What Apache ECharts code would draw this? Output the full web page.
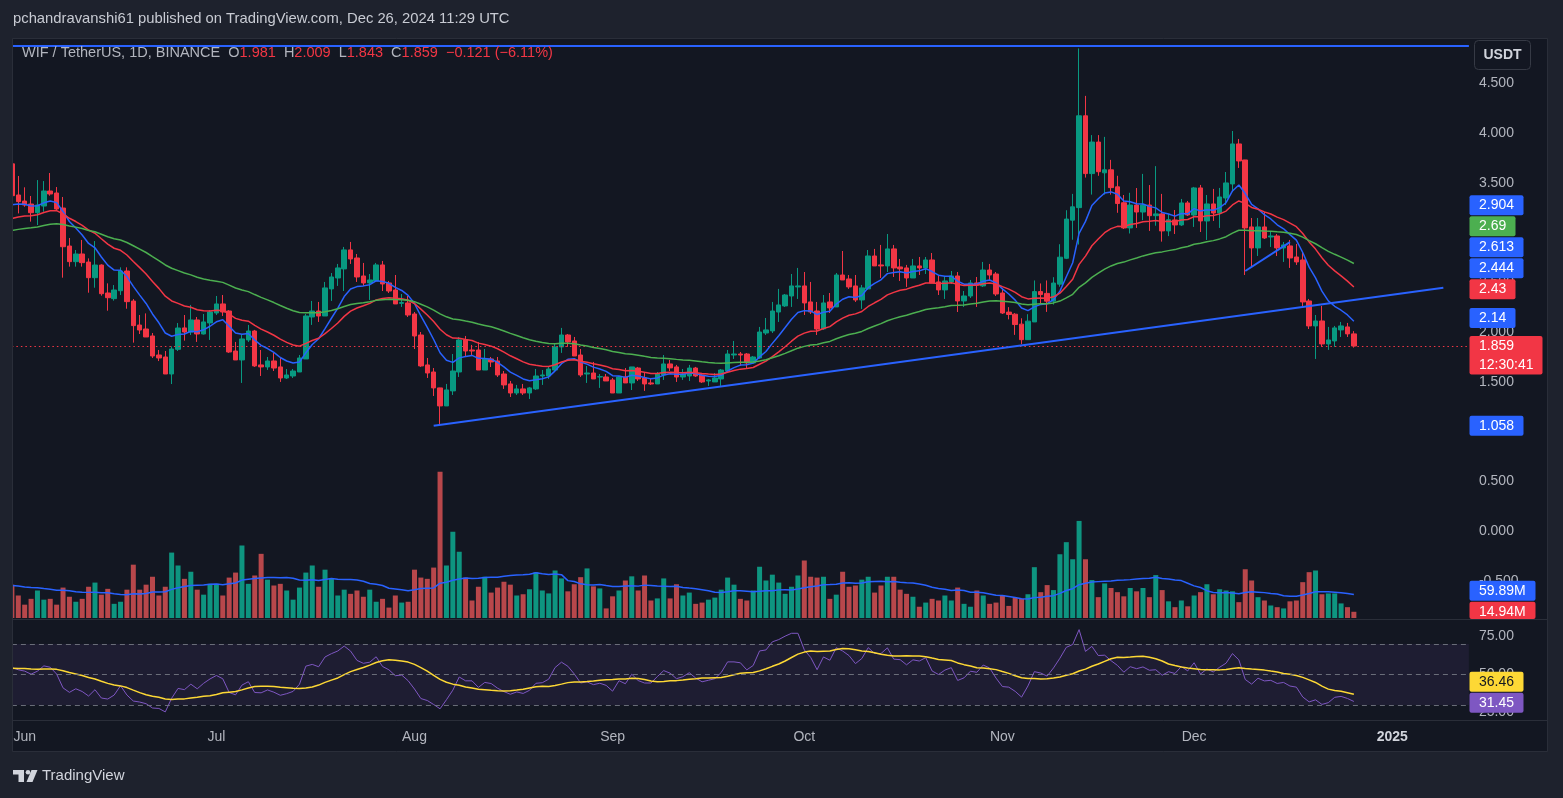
<!DOCTYPE html>
<html>
<head>
<meta charset="utf-8">
<script src="https://cdn.jsdelivr.net/npm/echarts@6/dist/echarts.min.js"></script>
<style>
html,body{margin:0;padding:0;background:#1e222d;}
#chart{width:1563px;height:798px;}
</style>
</head>
<body>
<div id="chart"></div>
<script>
// ---------------- DATA ----------------
const START_DATE = [2024, 4, 30];   // 2024-05-30 (first category)
const CATEGORY_COUNT = 229;         // through 2025-01-13 (empty right margin)
const MONTHS = ['Jan','Feb','Mar','Apr','May','Jun','Jul','Aug','Sep','Oct','Nov','Dec'];

const open = [
3.69,3.377,3.316,3.286,3.199,3.266,3.417,3.397,3.246,2.864,
2.707,2.784,2.703,2.546,2.673,2.392,2.335,2.415,2.613,2.311,
2.07,2.03,1.96,1.769,1.749,1.578,1.826,2.041,2.0,2.121,
1.98,2.091,2.191,2.282,2.211,1.809,1.719,1.92,2.01,1.669,
1.649,1.709,1.649,1.538,1.558,1.598,1.729,2.151,2.211,2.161,
2.433,2.543,2.634,2.825,2.744,2.563,2.493,2.513,2.674,2.493,
2.422,2.288,2.292,2.181,1.97,1.669,1.598,1.438,1.257,1.408,
1.598,1.92,1.819,1.819,1.618,1.729,1.709,1.578,1.478,1.387,
1.428,1.387,1.428,1.558,1.558,1.618,1.85,1.97,1.91,1.769,
1.578,1.588,1.548,1.548,1.518,1.387,1.548,1.488,1.638,1.538,
1.488,1.478,1.568,1.679,1.649,1.548,1.558,1.638,1.568,1.508,
1.498,1.528,1.608,1.769,1.779,1.779,1.689,1.739,1.99,2.011,
2.201,2.262,2.362,2.453,2.463,2.302,2.211,2.031,2.302,2.252,
2.573,2.533,2.463,2.322,2.433,2.764,2.674,2.664,2.835,2.654,
2.644,2.543,2.664,2.644,2.724,2.503,2.423,2.503,2.563,2.312,
2.362,2.493,2.463,2.623,2.583,2.392,2.2,2.179,2.079,1.923,
2.101,2.406,2.388,2.31,2.481,2.741,3.124,3.25,4.173,3.592,
3.909,3.6,3.63,3.459,3.299,3.046,3.276,3.206,3.276,3.169,
3.187,3.016,3.126,3.076,3.297,3.176,3.448,3.116,3.287,3.196,
3.347,3.488,3.89,3.729,3.056,2.845,3.056,2.955,2.965,2.845,
2.865,2.754,2.724,2.312,2.061,2.111,1.88,1.91,2.021,2.051,1.981];

const high = [
3.72,3.568,3.454,3.367,3.527,3.517,3.598,3.457,3.357,2.945,
2.824,2.925,2.74,2.914,2.68,2.489,2.472,2.65,2.65,2.331,
2.171,2.187,1.99,1.819,1.809,1.856,2.09,2.171,2.272,2.151,
2.181,2.221,2.362,2.372,2.22,1.90,1.97,2.071,2.021,1.819,
1.749,1.789,1.739,1.628,1.628,1.769,2.181,2.312,2.302,2.503,
2.593,2.684,2.855,2.905,2.784,2.694,2.583,2.694,2.714,2.513,
2.573,2.382,2.362,2.201,2.0,1.739,1.638,1.44,1.478,1.779,
1.95,1.96,1.87,1.90,1.829,1.749,1.749,1.608,1.508,1.468,
1.478,1.448,1.628,1.618,1.658,1.88,2.041,1.98,1.95,1.829,
1.658,1.699,1.578,1.578,1.538,1.558,1.638,1.649,1.649,1.598,
1.538,1.598,1.769,1.719,1.669,1.628,1.669,1.649,1.588,1.528,
1.588,1.628,1.819,1.91,1.799,1.789,1.759,2.051,2.141,2.302,
2.433,2.382,2.583,2.644,2.603,2.503,2.302,2.372,2.392,2.593,
2.814,2.573,2.573,2.473,2.824,2.835,2.875,2.985,2.875,2.734,
2.674,2.734,2.754,2.754,2.794,2.563,2.563,2.613,2.603,2.412,
2.523,2.553,2.704,2.684,2.603,2.443,2.25,2.19,2.138,2.179,
2.518,2.488,2.518,2.551,2.882,3.224,3.388,4.85,4.373,3.979,
3.979,3.961,3.73,3.57,3.377,3.399,3.447,3.589,3.477,3.667,
3.388,3.187,3.226,3.337,3.317,3.458,3.478,3.377,3.438,3.448,
3.608,4.02,3.94,3.73,3.146,3.146,3.206,3.005,2.985,2.905,
2.925,2.885,2.794,2.332,2.171,2.262,2.051,2.061,2.101,2.091,2.009];

const low = [
3.33,3.192,3.259,3.109,3.075,3.209,3.37,3.226,2.546,2.657,
2.657,2.657,2.395,2.445,2.365,2.214,2.315,2.372,2.234,1.893,
1.98,1.95,1.739,1.708,1.578,1.477,1.809,1.913,1.97,1.90,
1.975,1.92,2.171,2.161,1.79,1.719,1.488,1.90,1.649,1.558,
1.619,1.608,1.498,1.528,1.538,1.598,1.729,2.071,2.101,2.161,
2.312,2.463,2.412,2.684,2.503,2.463,2.322,2.513,2.412,2.392,
2.282,2.252,2.151,1.829,1.649,1.538,1.357,1.07,1.257,1.367,
1.548,1.749,1.769,1.618,1.618,1.648,1.548,1.428,1.347,1.367,
1.367,1.327,1.418,1.468,1.528,1.608,1.79,1.85,1.759,1.548,
1.488,1.528,1.438,1.508,1.387,1.387,1.488,1.417,1.508,1.408,
1.468,1.478,1.518,1.608,1.498,1.518,1.508,1.548,1.488,1.458,
1.498,1.458,1.608,1.729,1.659,1.638,1.679,1.729,1.97,1.99,
2.101,2.252,2.252,2.332,2.171,2.181,1.97,2.021,2.191,2.252,
2.523,2.433,2.302,2.232,2.423,2.664,2.543,2.603,2.553,2.513,
2.453,2.543,2.573,2.583,2.493,2.372,2.332,2.483,2.201,2.252,
2.342,2.252,2.453,2.523,2.362,2.181,2.127,1.971,1.878,1.923,
2.101,2.276,2.202,2.276,2.455,2.733,2.927,2.879,3.552,3.381,
3.57,3.381,3.381,3.198,3.035,2.99,3.046,3.124,3.016,3.068,
2.908,2.964,2.985,3.066,3.166,3.056,3.005,2.925,3.116,3.046,
3.277,3.407,3.649,2.573,2.654,2.764,2.935,2.855,2.764,2.704,
2.644,2.674,2.242,2.03,1.729,1.85,1.82,1.85,1.95,1.95,1.843];

const close = [
3.37,3.31,3.276,3.199,3.276,3.417,3.387,3.236,2.857,2.707,
2.784,2.697,2.546,2.673,2.385,2.345,2.422,2.613,2.305,2.064,
2.02,1.95,1.759,1.739,1.578,1.829,2.04,2.0,2.121,1.98,
2.101,2.201,2.282,2.201,1.799,1.719,1.93,2.01,1.659,1.649,
1.709,1.638,1.538,1.568,1.608,1.739,2.161,2.211,2.161,2.443,
2.553,2.644,2.825,2.734,2.553,2.493,2.523,2.674,2.483,2.412,
2.282,2.296,2.171,1.96,1.659,1.588,1.438,1.257,1.418,1.608,
1.92,1.809,1.809,1.618,1.729,1.699,1.568,1.468,1.387,1.428,
1.387,1.438,1.558,1.568,1.628,1.85,1.97,1.90,1.759,1.568,
1.588,1.528,1.551,1.508,1.387,1.548,1.488,1.649,1.528,1.478,
1.478,1.578,1.679,1.639,1.548,1.578,1.638,1.558,1.498,1.518,
1.538,1.618,1.779,1.779,1.769,1.689,1.749,2.0,2.021,2.211,
2.272,2.372,2.463,2.463,2.292,2.201,2.03,2.292,2.242,2.573,
2.523,2.453,2.322,2.443,2.764,2.664,2.664,2.835,2.644,2.634,
2.543,2.664,2.644,2.724,2.493,2.423,2.513,2.563,2.312,2.362,
2.493,2.473,2.623,2.573,2.382,2.191,2.176,2.075,1.923,2.109,
2.406,2.376,2.31,2.492,2.752,3.135,3.258,4.173,3.592,3.909,
3.611,3.63,3.451,3.291,3.046,3.276,3.206,3.276,3.169,3.187,
3.016,3.128,3.076,3.297,3.176,3.448,3.116,3.287,3.196,3.357,
3.498,3.89,3.719,3.046,2.845,3.056,2.945,2.965,2.845,2.875,
2.744,2.704,2.302,2.061,2.111,1.88,1.92,2.041,2.061,1.981,1.859];

// volume in millions
const volume = [
80,54,32,46,66,44,46,32,73,51,
39,46,75,85,56,70,34,39,68,128,
68,80,99,54,75,157,126,94,111,68,
56,82,82,54,97,109,174,82,102,154,
92,78,82,66,44,73,109,126,75,116,
94,54,68,58,66,51,68,39,46,25,
54,37,39,116,97,94,121,351,126,207,
159,97,42,75,99,61,73,87,80,54,
57,69,110,66,59,114,95,64,81,98,
119,76,71,23,52,66,90,100,66,102,
42,47,95,47,81,54,61,34,37,44,
49,68,97,80,46,42,66,123,90,104,
85,58,75,102,138,99,97,99,46,56,
111,75,78,92,99,61,78,99,99,68,
58,51,27,37,46,42,54,42,73,34,
27,66,54,34,37,54,29,48,46,57,
122,62,79,67,153,182,141,233,141,91,
50,83,72,62,52,72,64,72,50,103,
67,40,26,42,28,54,62,81,57,69,
66,64,38,117,90,50,42,30,26,23,
40,42,86,110,114,57,59,59,35,26,14.94];

// indicator settings and starting values read at the left edge of the picture
const EMA_PERIODS = [9, 21, 50];
const EMA_START = [3.28, 3.14, 3.02];
const EMA_COLORS = ['#2962ff', '#f23645', '#4caf50'];
const VOL_MA_PERIOD = 20, VOL_MA_START = 78;
const RSI_PERIOD = 14, RSI_START_GAIN = 0.09, RSI_START_LOSS = 0.075;
const RSI_MA_PERIOD = 14, RSI_MA_START = 54;

// drawings (date index, price)
const trendLine = [[66, 1.058], [224, 2.444]];
const shortLine = [[193, 2.613], [200, 2.904]];
const topLevel = 4.874;
const lastPrice = 1.859;

// right-side value tags
const priceTags = [
  {v: 2.904, text: '2.904', color: '#2962ff'},
  {v: 2.69,  text: '2.69',  color: '#4caf50'},
  {v: 2.613, text: '2.613', color: '#2962ff'},
  {v: 2.444, text: '2.444', color: '#2962ff'},
  {v: 2.43,  text: '2.43',  color: '#f23645'},
  {v: 2.14,  text: '2.14',  color: '#2962ff'},
  {v: 1.859, text: '1.859', sub: '12:30:41', color: '#f23645'},
  {v: 1.058, text: '1.058', color: '#2962ff'}
];
const volumeTags = [
  {v: 59.89, text: '59.89M', color: '#2962ff'},
  {v: 14.94, text: '14.94M', color: '#f23645', clipBottom: true}
];
const rsiTags = [
  {v: 36.46, text: '36.46', color: '#fdd835', tc: '#131722'},
  {v: 31.45, text: '31.45', color: '#7e57c2'}
];

// ---------------- BUILD ----------------
const dates = [];
for (let i = 0; i < CATEGORY_COUNT; i++) {
  const d = new Date(Date.UTC(START_DATE[0], START_DATE[1], START_DATE[2]) + i * 86400000);
  dates.push(d.toISOString().slice(0, 10));
}
const N = close.length;
const candles = close.map((c, i) => [open[i], c, low[i], high[i]]);

function ema(period, start) {
  const k = 2 / (period + 1), out = [start];
  for (let i = 1; i < N; i++) out.push(out[i - 1] + k * (close[i] - out[i - 1]));
  return out.map(v => +v.toFixed(4));
}
function sma(arr, period, seed) {
  const buf = new Array(period - 1).fill(seed), out = [];
  arr.forEach(v => { buf.push(v); if (buf.length > period) buf.shift();
    out.push(+(buf.reduce((a, b) => a + b, 0) / buf.length).toFixed(3)); });
  return out;
}
const emaLines = EMA_PERIODS.map((p, i) => ema(p, EMA_START[i]));
const volMA = sma(volume, VOL_MA_PERIOD, VOL_MA_START);
const rsi = [];
(function () {
  let ag = RSI_START_GAIN, al = RSI_START_LOSS;
  rsi.push(100 - 100 / (1 + ag / al));
  for (let i = 1; i < N; i++) {
    const ch = close[i] - close[i - 1];
    ag = (ag * (RSI_PERIOD - 1) + Math.max(ch, 0)) / RSI_PERIOD;
    al = (al * (RSI_PERIOD - 1) + Math.max(-ch, 0)) / RSI_PERIOD;
    rsi.push(100 - 100 / (1 + ag / al));
  }
})();
const rsiR = rsi.map(v => +v.toFixed(2));
const rsiMA = sma(rsiR, RSI_MA_PERIOD, RSI_MA_START);

const UP = '#089981', DOWN = '#f23645';
const volData = volume.map((v, i) => ({value: v,
  itemStyle: {color: close[i] >= open[i] ? '#0e9580' : '#b8474b'}}));

const FONT_FAMILY = '"Liberation Sans", Arial, sans-serif';
const LEFT = 11.9, RIGHT = 94.1;

const xAxisBase = {type: 'category', data: dates, boundaryGap: false,
  axisLine: {show: false}, axisTick: {show: false}, splitLine: {show: false}};

const option = {
  backgroundColor: '#1e222d',
  animation: false,
  grid: [
    {left: LEFT, right: RIGHT, top: 33.5, height: 597},
    {left: LEFT, right: RIGHT, top: 443, height: 175},
    {left: LEFT, right: RIGHT, top: 621.1, height: 99.1}
  ],
  xAxis: [
    Object.assign({}, xAxisBase, {gridIndex: 0, axisLabel: {show: false}}),
    Object.assign({}, xAxisBase, {gridIndex: 1, axisLabel: {show: false}}),
    Object.assign({}, xAxisBase, {gridIndex: 2, axisLabel: {
      show: true, color: '#b2b5be', fontSize: 14, fontFamily: FONT_FAMILY, margin: 10,
      interval: (idx, val) => val.slice(8) === '01',
      formatter: val => { const m = +val.slice(5, 7); return m === 1 ? '{y|' + val.slice(0, 4) + '}' : MONTHS[m - 1]; },
      rich: {y: {fontWeight: 'bold', color: '#d1d4dc', fontSize: 14, fontFamily: FONT_FAMILY}}
    }})
  ],
  yAxis: [
    {gridIndex: 0, type: 'value', position: 'right', min: -1, max: 5, interval: 0.5,
      axisLine: {show: false}, axisTick: {show: false}, splitLine: {show: false},
      axisLabel: {color: '#b2b5be', fontSize: 14, fontFamily: FONT_FAMILY, margin: 10, align: 'left',
        formatter: v => (v < -0.75 || v > 4.75) ? '' : v.toFixed(3)}},
    {gridIndex: 1, type: 'value', min: 0, max: 420, show: false, splitLine: {show: false}},
    {gridIndex: 2, type: 'value', position: 'right', min: 20, max: 85, interval: 5,
      axisLine: {show: false}, axisTick: {show: false}, splitLine: {show: false},
      axisLabel: {color: '#b2b5be', fontSize: 14, fontFamily: FONT_FAMILY, margin: 10, align: 'left',
        formatter: v => (Math.abs(v - 25) < 0.01 || Math.abs(v - 50) < 0.01 || Math.abs(v - 75) < 0.01) ? v.toFixed(2) : ''}}
  ],
  series: [
    {type: 'candlestick', xAxisIndex: 0, yAxisIndex: 0, data: candles, barWidth: 5, clip: true,
      itemStyle: {color: UP, color0: DOWN, borderColor: UP, borderColor0: DOWN, borderWidth: 1},
      emphasis: {disabled: true}, silent: true, z: 3,
      markLine: {silent: true, symbol: 'none', label: {show: false}, animation: false, z: 4,
        data: [
          {yAxis: lastPrice, lineStyle: {color: '#f23645', type: [1.5, 3], width: 1}},
          [{coord: [dates[trendLine[0][0]], trendLine[0][1]], lineStyle: {color: '#2962ff', width: 2, type: 'solid'}},
           {coord: [dates[trendLine[1][0]], trendLine[1][1]]}],
          [{coord: [dates[shortLine[0][0]], shortLine[0][1]], lineStyle: {color: '#2962ff', width: 2, type: 'solid'}},
           {coord: [dates[shortLine[1][0]], shortLine[1][1]]}],
          [{coord: [dates[0], topLevel], lineStyle: {color: '#2962ff', width: 2, type: 'solid'}},
           {coord: [dates[CATEGORY_COUNT - 1], topLevel]}]
        ]}},
    ...emaLines.map((d, i) => ({type: 'line', xAxisIndex: 0, yAxisIndex: 0, data: d, showSymbol: false,
      symbol: 'none', silent: true, z: 4, lineStyle: {color: EMA_COLORS[i], width: 1.5}})),
    {type: 'bar', xAxisIndex: 1, yAxisIndex: 1, data: volData, barWidth: 5, silent: true, z: 1},
    {type: 'line', xAxisIndex: 1, yAxisIndex: 1, data: volMA, showSymbol: false, symbol: 'none', silent: true,
      z: 2, lineStyle: {color: '#2962ff', width: 1.5}},
    {type: 'line', xAxisIndex: 2, yAxisIndex: 2, data: rsiR, showSymbol: false, symbol: 'none', silent: true,
      z: 3, lineStyle: {color: '#7e57c2', width: 1},
      markArea: {silent: true, itemStyle: {color: 'rgba(126,87,194,0.10)'}, data: [[{yAxis: 70}, {yAxis: 30}]]},
      markLine: {silent: true, symbol: 'none', label: {show: false},
        lineStyle: {color: 'rgba(120,123,134,0.85)', type: [5, 4], width: 1},
        data: [{yAxis: 70}, {yAxis: 50}, {yAxis: 30}]}},
    {type: 'line', xAxisIndex: 2, yAxisIndex: 2, data: rsiMA, showSymbol: false, symbol: 'none', silent: true,
      z: 4, lineStyle: {color: '#fdd835', width: 1.5}}
  ]
};

const chart = echarts.init(document.getElementById('chart'), null, {renderer: 'canvas', width: 1563, height: 798});
chart.setOption(option);

// ---------------- overlays ----------------
const ctx = document.createElement('canvas').getContext('2d');
const TAG_FONT = '14px ' + FONT_FAMILY;
ctx.font = TAG_FONT;
function tw(t) { return ctx.measureText(t).width; }

function stack(list, axisIndex) {
  const items = list.map(t => Object.assign({}, t, {y: chart.convertToPixel({yAxisIndex: axisIndex}, t.v)}));
  items.sort((a, b) => b.y - a.y);
  let curTop = Infinity;
  items.forEach(t => {
    const down = t.sub ? 28.5 : 10;
    const bottom = t.y + down;
    if (bottom > curTop - 1) t.y -= bottom - (curTop - 1);
    curTop = t.y - 10;
  });
  return items;
}
function tagEls(t) {
  const w = Math.round(Math.max(tw(t.text), t.sub ? tw(t.sub) : 0)) + 19;
  let h = t.sub ? 38.5 : 20;
  let top = t.y - 10;
  if (t.clipBottom) h = Math.min(h, 619 - top);
  const els = [
    {type: 'rect', shape: {x: 1469.5, y: top, width: w, height: h, r: 2}, style: {fill: t.color}, z: 200},
    {type: 'text', x: 1479, y: t.y, style: {text: t.text, fill: t.tc || '#ffffff', font: TAG_FONT, textVerticalAlign: 'middle'}, z: 201}
  ];
  if (t.sub) els.push({type: 'text', x: 1479, y: t.y + 19, style: {text: t.sub, fill: '#ffffff', font: TAG_FONT, textVerticalAlign: 'middle'}, z: 201});
  return els;
}

const graphics = [
  {type: 'rect', shape: {x: 12.5, y: 38.5, width: 1535, height: 713}, style: {fill: '#131722', stroke: '#2a2e39', lineWidth: 1}, z: -100, silent: true},
  // mask for the part of the first candle outside the frame
  {type: 'rect', shape: {x: 0, y: 38, width: 12.5, height: 715}, style: {fill: '#1e222d'}, z: 140, silent: true},
  {type: 'line', shape: {x1: 12.5, y1: 38.5, x2: 12.5, y2: 751.5}, style: {stroke: '#2a2e39', lineWidth: 1}, z: 150},
  {type: 'line', shape: {x1: 12.5, y1: 619.5, x2: 1547.5, y2: 619.5}, style: {stroke: '#2a2e39', lineWidth: 1}, z: 150},
  {type: 'line', shape: {x1: 12.5, y1: 720.5, x2: 1547.5, y2: 720.5}, style: {stroke: '#2a2e39', lineWidth: 1}, z: 150},
  {type: 'text', x: 13, y: 19, style: {text: 'pchandravanshi61 published on TradingView.com, Dec 26, 2024 11:29 UTC',
    fill: '#c8cbd3', font: '14.8px ' + FONT_FAMILY, textVerticalAlign: 'middle'}, z: 200},
  {type: 'text', x: 22, y: 53, style: {
    text: '{g|WIF / TetherUS, 1D, BINANCE  O}{r|1.981}{g|  H}{r|2.009}{g|  L}{r|1.843}{g|  C}{r|1.859}{r|  −0.121 (−6.11%)}',
    font: '14.5px ' + FONT_FAMILY, textVerticalAlign: 'middle',
    rich: {g: {fill: '#b2b5be', font: '14.5px ' + FONT_FAMILY}, r: {fill: '#f23645', font: '14.5px ' + FONT_FAMILY}}}, z: 200},
  // USDT button
  {type: 'rect', shape: {x: 1474.5, y: 40.5, width: 56, height: 29, r: 4}, style: {fill: '#131722', stroke: '#363a45', lineWidth: 1}, z: 200},
  {type: 'text', x: 1502.5, y: 55, style: {text: 'USDT', fill: '#d1d4dc', font: 'bold 14px ' + FONT_FAMILY, textAlign: 'center', textVerticalAlign: 'middle'}, z: 201},
  // TradingView logo
  {type: 'rect', shape: {x: 13, y: 770, width: 11, height: 4.5}, style: {fill: '#d1d4dc'}, z: 200},
  {type: 'rect', shape: {x: 18.5, y: 770, width: 5.5, height: 12}, style: {fill: '#d1d4dc'}, z: 200},
  {type: 'circle', shape: {cx: 28, cy: 772.3, r: 2.3}, style: {fill: '#d1d4dc'}, z: 200},
  {type: 'polygon', shape: {points: [[31.5, 770], [37.5, 770], [32.5, 782], [26.5, 782]]}, style: {fill: '#d1d4dc'}, z: 200},
  {type: 'text', x: 42, y: 776, style: {text: 'TradingView', fill: '#d1d4dc', font: '15px ' + FONT_FAMILY, textVerticalAlign: 'middle'}, z: 200}
];
stack(priceTags, 0).forEach(t => graphics.push(...tagEls(t)));
stack(volumeTags, 1).forEach(t => graphics.push(...tagEls(t)));
stack(rsiTags, 2).forEach(t => graphics.push(...tagEls(t)));

chart.setOption({graphic: graphics});
</script>
</body>
</html>
